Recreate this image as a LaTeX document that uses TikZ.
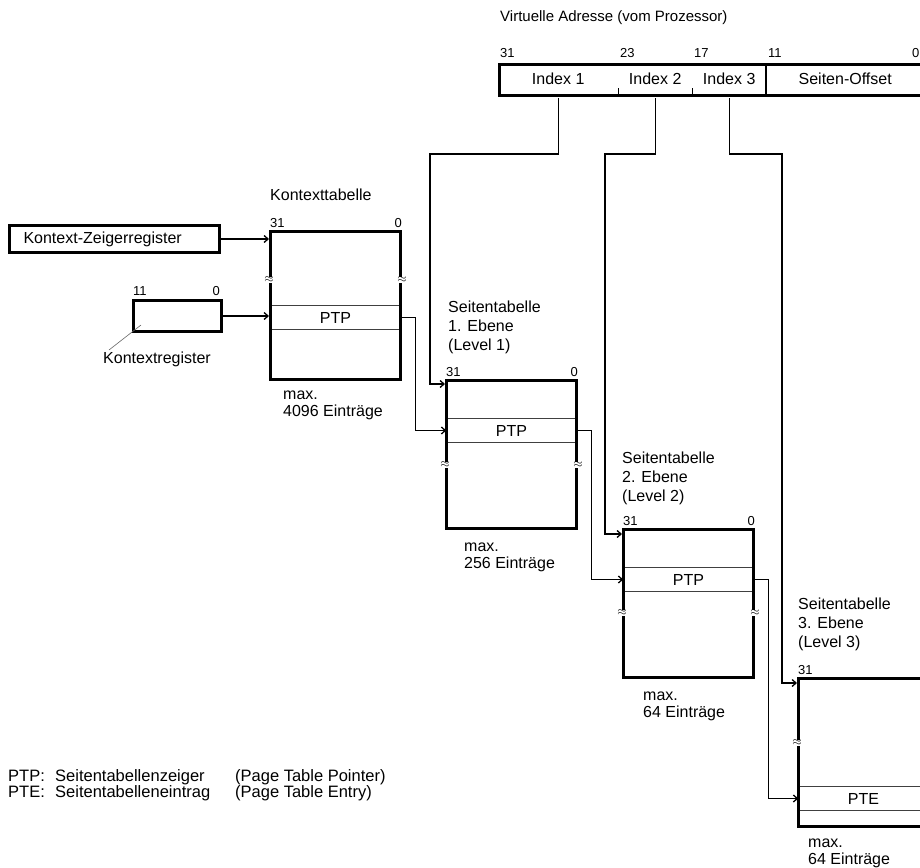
\documentclass[tikz,border=0pt]{standalone}
\usepackage{fontspec}
\setmainfont{Liberation Sans}
\usetikzlibrary{arrows.meta, positioning, calc}

\begin{document}
\begin{tikzpicture}[x=1pt, y=-1pt,
  every node/.style={font=\fontsize{16}{19}\selectfont},
  bits/.style={font=\fontsize{13}{13}\selectfont, inner sep=0pt, anchor=base west},
  tab/.style={draw, line width=3pt, minimum width=130pt, minimum height=148pt,
              inner sep=0pt, anchor=north west},
  row/.style={minimum width=130pt, minimum height=23pt, inner sep=0pt},
  rowline/.style={black!75, line width=1.3pt, shorten <=1.5pt, shorten >=1.5pt},
  brk/.style={fill=white, inner sep=0.2pt, font=\fontsize{12}{12}\selectfont},
  reg/.style={draw, line width=3pt, inner sep=0pt, anchor=north west},
  field/.style={minimum height=31pt, inner sep=0pt, anchor=north west},
  txt/.style={align=left, anchor=north west, inner sep=0pt},
  maxtxt/.style={txt, font=\fontsize{16}{17}\selectfont},
  conn/.style={line width=1.3pt},
  arr/.style={conn, -{Straight Barb[length=4pt, width=7pt]}}]
  \useasboundingbox (0,0) rectangle (920,867);
  \clip (0,0) rectangle (920,867);
  % virtual address
  \node[anchor=west, inner sep=0pt, font=\fontsize{15}{19}\selectfont] (title) at (500,18) {Virtuelle Adresse (vom Prozessor)};
  \node[reg, minimum width=426pt, minimum height=31pt] (va) at (498,63) {};
  \node[field, minimum width=120pt] (idx1) at (498,63) {Index 1};
  \node[field, minimum width=74pt] (idx2) at (618,63) {Index 2};
  \node[field, minimum width=74pt] (idx3) at (692,63) {Index 3};
  \node[field, minimum width=158pt] (off) at (766,63) {Seiten-Offset};
  \draw[line width=1.2pt] (idx1.south east) -- ++(0,-6);
  \draw[line width=1.2pt] (idx2.south east) -- ++(0,-6);
  \draw[line width=2pt] (idx3.north east) -- (idx3.south east);
  \foreach \x/\b in {500/31, 620/23, 694/17, 768/11, 912/0}
    \node[bits] at (\x,58) {\b};
  % registers
  \node[reg, minimum height=27pt, text width=182pt, inner xsep=14pt, align=left]
    (kzr) at (8,224) {Kontext-Zeigerregister};
  \node[reg, minimum width=88pt, minimum height=31pt] (kreg) at (132,299) {};
  \node[bits] at (133,295) {11};
  \node[bits, anchor=base east] at (220,295) {0};
  \node[anchor=north, inner sep=0pt] (kregl) at (157,352) {Kontextregister};
  \draw[black!60, line width=0.6pt] ([xshift=9pt,yshift=8pt]kreg.south west) -- ([xshift=6pt,yshift=2pt]kregl.north west);
  % tables
  \node[tab] (ctx) at (269,230) {};
  \node[tab] (lv1) at (445,379) {};
  \node[tab] (lv2) at (622,528) {};
  \node[tab] (lv3) at (797,677) {};
  \node[row] (ctxptp) at (ctx.center |- 0,317.5) {PTP};
  \node[row] (lv1ptp) at (lv1.center |- 0,430.5) {PTP};
  \node[row] (lv2ptp) at (lv2.center |- 0,579.5) {PTP};
  \node[row] (lv3pte) at (lv3.center |- 0,798.5) {PTE};
  \foreach \r in {ctxptp, lv1ptp, lv2ptp, lv3pte} {
    \draw[rowline] (\r.north west) -- (\r.north east);
    \draw[rowline] (\r.south west) -- (\r.south east);
  }
  \foreach \t/\y in {ctx/280, lv1/465, lv2/613} {
    \node[brk] at (\t.west |- 0,\y) {$\approx$};
    \node[brk] at (\t.east |- 0,\y) {$\approx$};
  }
  \node[brk] at (lv3.west |- 0,743) {$\approx$};
  \foreach \t in {ctx, lv1, lv2, lv3}
    \node[bits] at ([xshift=1pt,yshift=3pt]\t.north west) {31};
  \foreach \t in {ctx, lv1, lv2}
    \node[bits, anchor=base east] at ([yshift=3pt]\t.north east) {0};
  % labels
  \node[anchor=west, inner sep=0pt] (ctxt) at (270,195) {Kontexttabelle};
  \node[txt] (lv1t) at (448,301) {Seitentabelle\\1. Ebene\\(Level 1)};
  \node[txt] (lv2t) at (622,452) {Seitentabelle\\2. Ebene\\(Level 2)};
  \node[txt] (lv3t) at (798,598) {Seitentabelle\\3. Ebene\\(Level 3)};
  \node[maxtxt] (ctxmax) at (283,391) {max.\\4096 Einträge};
  \node[maxtxt] (lv1max) at (464,543) {max.\\256 Einträge};
  \node[maxtxt] (lv2max) at (643,692) {max.\\64 Einträge};
  \node[maxtxt] (lv3max) at (808,839) {max.\\64 Einträge};
  % connectors
  \draw[arr] (kzr.east) -- (kzr.east -| ctx.west);
  \draw[arr] (kreg.east) -- (kreg.east -| ctx.west);
  \draw[arr] (ctxptp.east) -- ++(15,0) |- (lv1ptp.west);
  \draw[arr] (lv1ptp.east) -- ++(15,0) |- (lv2ptp.west);
  \draw[arr] (lv2ptp.east) -- ++(15,0) |- (lv3pte.west);
  \draw[arr] ([yshift=-4pt]idx1.south) |- (430,154) |- ([yshift=-5pt]lv1.north west);
  \draw[arr] ([yshift=-4pt]idx2.south) |- (605,154) |- ([yshift=-6pt]lv2.north west);
  \draw[arr] ([yshift=-4pt]idx3.south) |- (782,154) |- ([yshift=-6pt]lv3.north west);
  % legend
  \node[anchor=west, inner sep=0pt, font=\fontsize{16.5}{16}\selectfont] (leg) at (8,786)
    {\begin{tabular}{@{}p{47pt}@{}p{180pt}@{}l@{}}
     PTP: & Seitentabellenzeiger & (Page Table Pointer)\\
     PTE: & Seitentabelleneintrag & (Page Table Entry)
     \end{tabular}};
\end{tikzpicture}
\end{document}
